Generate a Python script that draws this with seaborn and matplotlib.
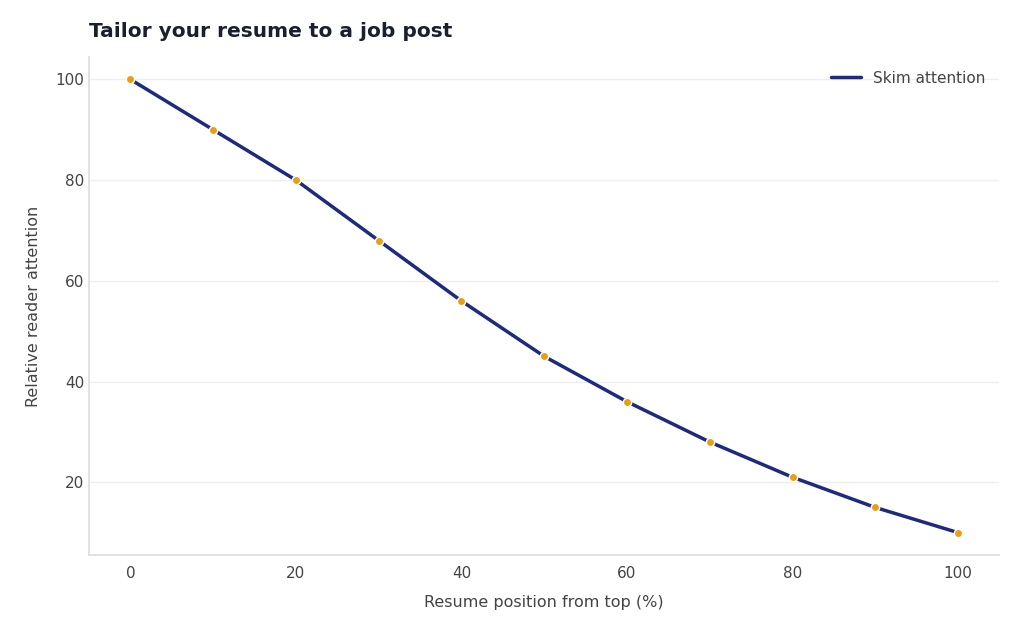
import matplotlib
matplotlib.use('Agg')
import matplotlib.pyplot as plt
import seaborn as sns
import pandas as pd

positions = [0, 10, 20, 30, 40, 50, 60, 70, 80, 90, 100]
attention = [100, 90, 80, 68, 56, 45, 36, 28, 21, 15, 10]

sns.set_theme(style='white')
plt.rcParams['font.family'] = ['DejaVu Sans']

df = pd.DataFrame({'pos': positions, 'att': attention})

fig, ax = plt.subplots(figsize=(10.24, 6.31), dpi=100)
fig.subplots_adjust(left=0.087, right=0.976, top=0.91, bottom=0.12)

sns.lineplot(data=df, x='pos', y='att', ax=ax, color='#1c2a80', linewidth=2.5,
             label='Skim attention')
ax.scatter(df['pos'], df['att'], s=36, color='#e89f12', edgecolor='white',
           linewidth=1, zorder=3)

ax.set_xlim(-5, 105)
ax.set_ylim(5.5, 104.5)
ax.set_xticks([0, 20, 40, 60, 80, 100])
ax.set_yticks([20, 40, 60, 80, 100])
ax.yaxis.grid(True, color='#eeeeee', linewidth=1)
ax.set_axisbelow(True)
for s in ['top', 'right']:
    ax.spines[s].set_visible(False)
for s in ['left', 'bottom']:
    ax.spines[s].set_color('#dddddd')
ax.tick_params(colors='#444444', labelsize=11, length=4, color='#dddddd')
ax.tick_params(axis='y', length=0)
ax.set_xlabel('Resume position from top (%)', fontsize=11.5, color='#444444', labelpad=10)
ax.set_ylabel('Relative reader attention', fontsize=11.5, color='#444444', labelpad=10)
ax.set_title('Tailor your resume to a job post', loc='left', fontsize=14.5,
             fontweight='bold', color='#1a1f2e', pad=14)
leg = ax.legend(loc='upper right', frameon=False, fontsize=11)
for t in leg.get_texts():
    t.set_color('#444444')

fig.savefig('out.png', dpi=100)
